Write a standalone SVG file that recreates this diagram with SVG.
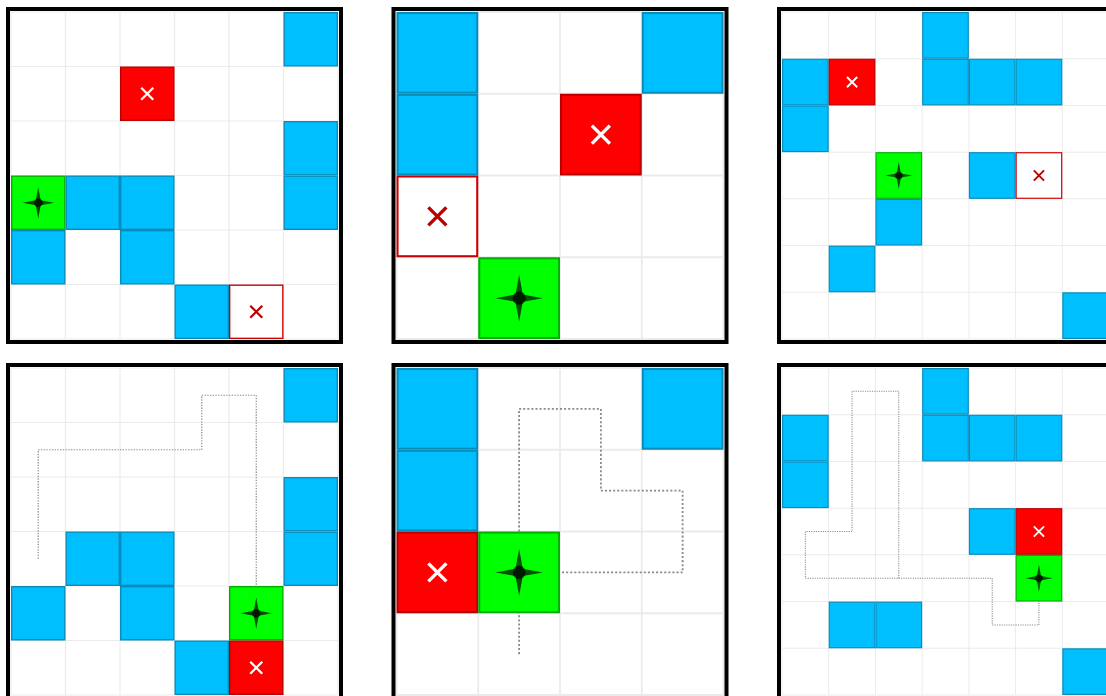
<svg xmlns="http://www.w3.org/2000/svg" xmlns:xlink="http://www.w3.org/1999/xlink" width="1106" height="696" viewBox="0 0 1106 696">
<style>
.frame{fill:none;stroke:#000;stroke-width:4}
.route{fill:none;stroke:#8a8a8a;stroke-width:2.2;stroke-dasharray:2.5 2.5}
</style>
<defs>
<g id="gl6" stroke="#ebebeb" stroke-width="2.2">
<rect x="0" y="0" width="600" height="600" fill="#fff" stroke="none"/>
<line x1="100" y1="0" x2="100" y2="600"/><line x1="200" y1="0" x2="200" y2="600"/><line x1="300" y1="0" x2="300" y2="600"/><line x1="400" y1="0" x2="400" y2="600"/><line x1="500" y1="0" x2="500" y2="600"/><line x1="600" y1="0" x2="600" y2="600"/><line x1="0" y1="0" x2="0" y2="600"/>
<line y1="100" x1="0" y2="100" x2="600"/><line y1="200" x1="0" y2="200" x2="600"/><line y1="300" x1="0" y2="300" x2="600"/><line y1="400" x1="0" y2="400" x2="600"/><line y1="500" x1="0" y2="500" x2="600"/><line y1="600" x1="0" y2="600" x2="600"/><line y1="0" x1="0" y2="0" x2="600"/>
</g>
<g id="gl4" stroke="#ebebeb" stroke-width="2.2">
<rect x="0" y="0" width="400" height="400" fill="#fff" stroke="none"/>
<line x1="0" y1="0" x2="0" y2="400"/><line x1="100" y1="0" x2="100" y2="400"/><line x1="200" y1="0" x2="200" y2="400"/><line x1="300" y1="0" x2="300" y2="400"/><line x1="400" y1="0" x2="400" y2="400"/>
<line y1="0" x1="0" y2="0" x2="400"/><line y1="100" x1="0" y2="100" x2="400"/><line y1="200" x1="0" y2="200" x2="400"/><line y1="300" x1="0" y2="300" x2="400"/><line y1="400" x1="0" y2="400" x2="400"/>
</g>
<g id="gl7" stroke="#ebebeb" stroke-width="2.2">
<rect x="0" y="0" width="700" height="700" fill="#fff" stroke="none"/>
<line x1="0" y1="0" x2="0" y2="700"/><line x1="100" y1="0" x2="100" y2="700"/><line x1="200" y1="0" x2="200" y2="700"/><line x1="300" y1="0" x2="300" y2="700"/><line x1="400" y1="0" x2="400" y2="700"/><line x1="500" y1="0" x2="500" y2="700"/><line x1="600" y1="0" x2="600" y2="700"/><line x1="700" y1="0" x2="700" y2="700"/>
<line y1="0" x1="0" y2="0" x2="700"/><line y1="100" x1="0" y2="100" x2="700"/><line y1="200" x1="0" y2="200" x2="700"/><line y1="300" x1="0" y2="300" x2="700"/><line y1="400" x1="0" y2="400" x2="700"/><line y1="500" x1="0" y2="500" x2="700"/><line y1="600" x1="0" y2="600" x2="700"/><line y1="700" x1="0" y2="700" x2="700"/>
</g>
<g id="blue"><rect x="1.25" y="1.25" width="97.5" height="97.5" fill="#00bfff" stroke="#0a8cba" stroke-width="2.5"/></g>
<g id="red"><rect x="1.25" y="1.25" width="97.5" height="97.5" fill="#ff0000" stroke="#b80000" stroke-width="2.5"/><path d="M39,39 L61,61 M61,39 L39,61" stroke="#fff" stroke-width="4.2" fill="none"/></g>
<g id="target"><rect x="1.25" y="1.25" width="97.5" height="97.5" fill="#fff" stroke="#cc0000" stroke-width="2.5"/><path d="M39,39 L61,61 M61,39 L39,61" stroke="#bb0000" stroke-width="4.2" fill="none"/></g>
<g id="agent"><rect x="1.25" y="1.25" width="97.5" height="97.5" fill="#00ff00" stroke="#00b000" stroke-width="2.5"/><polygon points="50,21 54.5,45.5 79,50 54.5,54.5 50,79 45.5,54.5 21,50 45.5,45.5" fill="#000" fill-opacity="0.68"/><circle cx="50" cy="50" r="8" fill="#000" fill-opacity="0.68"/></g>
</defs>
<rect x="0" y="0" width="1106" height="696" fill="#fff"/>

<g id="grids">
<g transform="translate(11,12) scale(0.545)"><use href="#gl6"/></g>
<g transform="translate(396.5,12) scale(0.8175)"><use href="#gl4"/></g>
<g transform="translate(782,12) scale(0.46714)"><use href="#gl7"/></g>
<g transform="translate(11,368) scale(0.545)"><use href="#gl6"/></g>
<g transform="translate(396.5,368) scale(0.8175)"><use href="#gl4"/></g>
<g transform="translate(782,368) scale(0.46714)"><use href="#gl7"/></g>
</g>

<g id="connectors">
<path class="route" transform="translate(11,368) scale(0.545)" d="M50,350 V150 H350 V50 H450 V450"/>
<path class="route" transform="translate(396.5,368) scale(0.8175)" d="M150,350 V50 H250 V150 H350 V250 H150"/>
<path class="route" transform="translate(782,368) scale(0.46714)" d="M250,450 V50 H150 V350 H50 V450 H450 V550 H550 V450"/>
</g>

<g id="panel1">
<g transform="translate(11,12) scale(0.545)">
<use href="#blue" x="500" y="0"/>
<use href="#red" x="200" y="100"/>
<use href="#blue" x="500" y="200"/>
<use href="#agent" x="0" y="300"/>
<use href="#blue" x="100" y="300"/>
<use href="#blue" x="200" y="300"/>
<use href="#blue" x="500" y="300"/>
<use href="#blue" x="0" y="400"/>
<use href="#blue" x="200" y="400"/>
<use href="#blue" x="300" y="500"/>
<use href="#target" x="400" y="500"/>
</g>
<rect class="frame" x="8" y="9" width="333" height="333"/>
</g>

<g id="panel2">
<g transform="translate(396.5,12) scale(0.8175)">
<use href="#blue" x="0" y="0"/>
<use href="#blue" x="300" y="0"/>
<use href="#blue" x="0" y="100"/>
<use href="#red" x="200" y="100"/>
<use href="#target" x="0" y="200"/>
<use href="#agent" x="100" y="300"/>
</g>
<rect class="frame" x="393.5" y="9" width="333" height="333"/>
</g>

<g id="panel3">
<g transform="translate(782,12) scale(0.46714)">
<use href="#blue" x="300" y="0"/>
<use href="#blue" x="0" y="100"/>
<use href="#red" x="100" y="100"/>
<use href="#blue" x="300" y="100"/>
<use href="#blue" x="400" y="100"/>
<use href="#blue" x="500" y="100"/>
<use href="#blue" x="0" y="200"/>
<use href="#agent" x="200" y="300"/>
<use href="#blue" x="400" y="300"/>
<use href="#target" x="500" y="300"/>
<use href="#blue" x="200" y="400"/>
<use href="#blue" x="100" y="500"/>
<use href="#blue" x="600" y="600"/>
</g>
<rect class="frame" x="779" y="9" width="333" height="333"/>
</g>

<g id="panel4">
<g transform="translate(11,368) scale(0.545)">
<use href="#blue" x="500" y="0"/>
<use href="#blue" x="500" y="200"/>
<use href="#blue" x="100" y="300"/>
<use href="#blue" x="200" y="300"/>
<use href="#blue" x="500" y="300"/>
<use href="#blue" x="0" y="400"/>
<use href="#blue" x="200" y="400"/>
<use href="#agent" x="400" y="400"/>
<use href="#blue" x="300" y="500"/>
<use href="#red" x="400" y="500"/>
</g>
<rect class="frame" x="8" y="365" width="333" height="333"/>
</g>

<g id="panel5">
<g transform="translate(396.5,368) scale(0.8175)">
<use href="#blue" x="0" y="0"/>
<use href="#blue" x="300" y="0"/>
<use href="#blue" x="0" y="100"/>
<use href="#red" x="0" y="200"/>
<use href="#agent" x="100" y="200"/>
</g>
<rect class="frame" x="393.5" y="365" width="333" height="333"/>
</g>

<g id="panel6">
<g transform="translate(782,368) scale(0.46714)">
<use href="#blue" x="300" y="0"/>
<use href="#blue" x="0" y="100"/>
<use href="#blue" x="300" y="100"/>
<use href="#blue" x="400" y="100"/>
<use href="#blue" x="500" y="100"/>
<use href="#blue" x="0" y="200"/>
<use href="#blue" x="400" y="300"/>
<use href="#red" x="500" y="300"/>
<use href="#agent" x="500" y="400"/>
<use href="#blue" x="100" y="500"/>
<use href="#blue" x="200" y="500"/>
<use href="#blue" x="600" y="600"/>
</g>
<rect class="frame" x="779" y="365" width="333" height="333"/>
</g>
</svg>
